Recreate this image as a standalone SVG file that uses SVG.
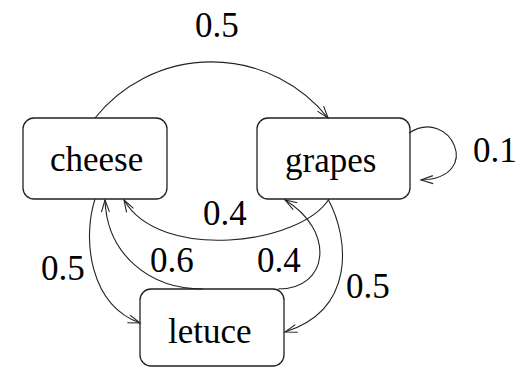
<svg xmlns="http://www.w3.org/2000/svg" width="516" height="368" viewBox="0 0 516 368">
<defs>
<marker id="arr" markerUnits="userSpaceOnUse" markerWidth="16" markerHeight="12" refX="13" refY="5" orient="auto" viewBox="0 0 16 10">
<path d="M1,1 L13,5 L1,9" fill="none" stroke="#222" stroke-width="1.1"/>
</marker>
</defs>
<g id="cheese">
<rect x="23" y="118" width="144" height="81" rx="11" fill="#fff" stroke="#222" stroke-width="1.3"/>
<text x="50" y="171" font-family="Liberation Serif, Times New Roman, serif" font-size="35">cheese</text>
</g>
<g id="grapes">
<rect x="257" y="118" width="153" height="81" rx="11" fill="#fff" stroke="#222" stroke-width="1.3"/>
<text x="285" y="172" font-family="Liberation Serif, Times New Roman, serif" font-size="35">grapes</text>
</g>
<g id="letuce">
<rect x="140" y="289" width="144" height="77" rx="11" fill="#fff" stroke="#222" stroke-width="1.3"/>
<text x="168" y="343" font-family="Liberation Serif, Times New Roman, serif" font-size="35">letuce</text>
</g>
<g id="connectors" fill="none" stroke="#222" stroke-width="1.1" marker-end="url(#arr)">
<path d="M95,118 A149,149 0 0 1 328,118"/>
<path d="M409,133 C450,106 485,178 421,180"/>
<path d="M329,199 C300,245 160,262 124,200"/>
<path d="M203,289 C150,289 107,255 105,200"/>
<path d="M278,289 C330,289 335,230 285,200"/>
<path d="M328,199 C350,240 355,310 285,332"/>
<path d="M95,199 C82,240 90,305 140,323"/>
</g>
<g id="labels" fill="#000">
<text x="195" y="37" font-family="Liberation Serif, Times New Roman, serif" font-size="35">0.5</text>
<text x="473" y="162" font-family="Liberation Serif, Times New Roman, serif" font-size="35">0.1</text>
<text x="203" y="225" font-family="Liberation Serif, Times New Roman, serif" font-size="35">0.4</text>
<text x="150" y="272" font-family="Liberation Serif, Times New Roman, serif" font-size="35">0.6</text>
<text x="257" y="272" font-family="Liberation Serif, Times New Roman, serif" font-size="35">0.4</text>
<text x="41" y="280" font-family="Liberation Serif, Times New Roman, serif" font-size="35">0.5</text>
<text x="346" y="298" font-family="Liberation Serif, Times New Roman, serif" font-size="35">0.5</text>
</g>
</svg>
